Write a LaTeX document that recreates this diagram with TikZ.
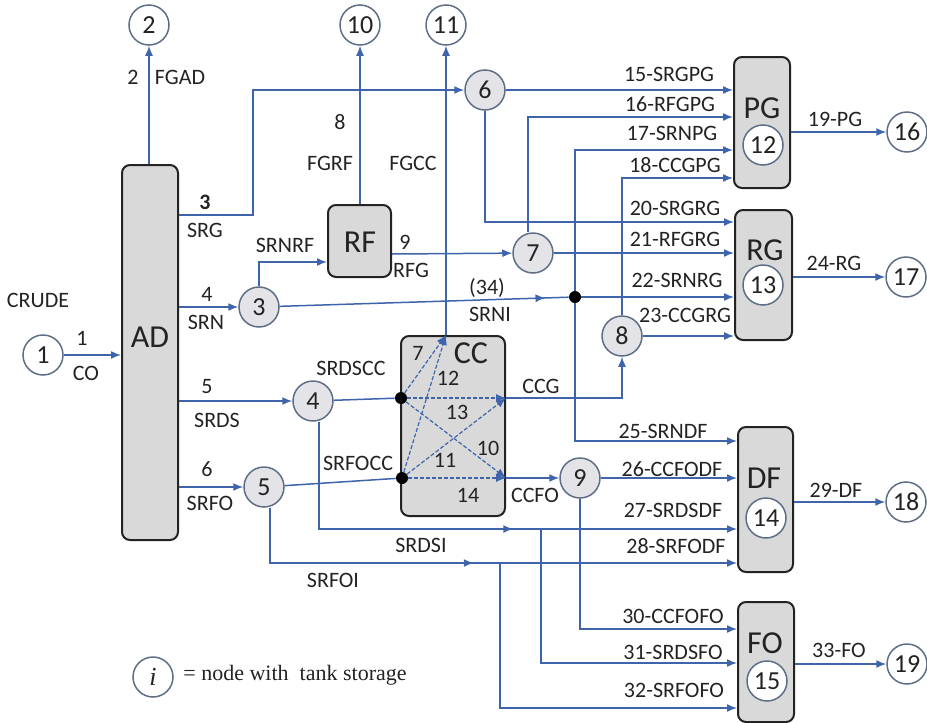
\documentclass[tikz,border=0pt]{standalone}
\usepackage{fontspec}
\setmainfont{Carlito}
\newfontfamily\legendfont{Liberation Serif}
\usetikzlibrary{arrows.meta,decorations.markings,calc}

\definecolor{flowblue}{RGB}{62,100,172}
\definecolor{ringgray}{RGB}{95,110,135}
\definecolor{boxfill}{RGB}{217,217,217}
\definecolor{tankfill}{RGB}{228,228,232}
\definecolor{inkgray}{RGB}{35,35,35}

\tikzset{
  flow/.style={flowblue,line width=0.75pt,-{Latex[length=5pt,width=4pt]}},
  pipe/.style={flowblue,line width=0.75pt},
  cross/.style={flowblue,line width=0.6pt,dash pattern=on 2pt off 1pt,-{Latex[length=5pt,width=4pt]}},
  midarrow/.style={postaction={decorate},decoration={markings,mark=at position #1 with {\arrow{Latex[length=5pt,width=4pt]}}}},
  unit/.style={draw=inkgray,fill=boxfill,line width=1pt,rounded corners=4pt,inner sep=0pt},
  tank/.style={circle,draw=ringgray,line width=0.75pt,fill=tankfill,minimum size=20pt,inner sep=0pt,text=inkgray,font=\fontsize{13}{15}\selectfont},
  sink/.style={tank,fill=white},
  lbl/.style={inner sep=0pt,text=inkgray,font=\fontsize{11}{13}\selectfont},
  ulbl/.style={inner sep=0pt,text=inkgray,font=\fontsize{16}{18}\selectfont},
  joint/.style={circle,fill=black,minimum size=6pt,inner sep=0pt}
}

\begin{document}
\begin{tikzpicture}[x=0.5pt,y=-0.5pt]
  \useasboundingbox (0,0) rectangle (927,723);

  % process units
  \node[unit,minimum width=28pt,minimum height=187.5pt] (AD) at (150,352.5) {};
  \node[unit,minimum width=31.5pt,minimum height=36pt] (RF) at (359.5,241) {};
  \node[unit,minimum width=52pt,minimum height=90pt] (CC) at (453,426) {};
  \node[unit,minimum width=28pt,minimum height=65.5pt] (PG) at (762,122.5) {};
  \node[unit,minimum width=28.5pt,minimum height=65pt] (RG) at (763.5,275) {};
  \node[unit,minimum width=27.5pt,minimum height=72.5pt] (DF) at (765.5,499.5) {};
  \node[unit,minimum width=28pt,minimum height=60pt] (FO) at (766,662) {};
  \node[ulbl] (ADt) at (150,337) {AD};
  \node[ulbl] (RFt) at (360,242) {RF};
  \node[ulbl] (CCt) at (471,353) {CC};
  \node[ulbl] (PGt) at (762,108) {PG};
  \node[ulbl] (RGt) at (765,250) {RG};
  \node[ulbl] (DFt) at (764,478) {DF};
  \node[ulbl] (FOt) at (765,643) {FO};

  % nodes
  \node[sink] (n1) at (43,355) {1};
  \node[sink] (n2) at (149,25) {2};
  \node[tank] (n3) at (259,307) {3};
  \node[tank] (n4) at (313,401) {4};
  \node[tank] (n5) at (264,487) {5};
  \node[tank] (n6) at (485,90) {6};
  \node[tank] (n7) at (533,253) {7};
  \node[tank] (n8) at (622,336) {8};
  \node[tank] (n9) at (580,478) {9};
  \node[sink] (n10) at (360,25) {10};
  \node[sink] (n11) at (446,25) {11};
  \node[sink] (n12) at (763,145) {12};
  \node[sink] (n13) at (763,285) {13};
  \node[sink] (n14) at (766,518) {14};
  \node[sink] (n15) at (767,681) {15};
  \node[sink] (n16) at (907,132) {16};
  \node[sink] (n17) at (906,277) {17};
  \node[sink] (n18) at (906,502) {18};
  \node[sink] (n19) at (907,664) {19};

  % junctions
  \node[joint] (J) at (575,297) {};
  \node[joint] (dA) at (401,398) {};
  \node[joint] (dB) at (402,478) {};
  \coordinate (tA) at (CC.north -| n11);
  \coordinate (cA) at (CC.east |- dA);
  \coordinate (cB) at (CC.east |- dB);
  \coordinate (s3) at (253,90);
  \coordinate (bA) at (541,529);
  \coordinate (bB) at (500,563);

  % crude unit
  \draw[flow] (n1) -- (n1 -| AD.west);
  \draw[flow] (AD.north -| n2) -- (n2);
  \draw[flow] (AD.east |- 0,215) -| (s3) -- (n6);
  \draw[flow] (AD.east |- n3) -- (n3);
  \draw[flow] (AD.east |- n4) -- (n4);
  \draw[flow] (AD.east |- n5) -- (n5);

  % naphtha and reformer
  \draw[flow] (n3) |- (RF.west |- 0,262);
  \draw[flow] (RF.north -| n10) -- (n10);
  \draw[flow] (RF.east |- 0,254) -- (n7);
  \draw[pipe,midarrow=0.92] (n3) -- (J);
  \draw[flow] (J) -- (J -| RG.west);
  \draw[flow] (J) |- (PG.west |- 0,150);
  \draw[flow] (J) |- (DF.west |- 0,441);

  % gasoline blending
  \draw[flow] (n6) -- (n6 -| PG.west);
  \draw[flow] (n6) |- (RG.west |- 0,222);
  \draw[flow] ([xshift=-2.5pt]n7.north) |- (PG.west |- 0,117);
  \draw[flow] (n7) -- (n7 -| RG.west);
  \draw[flow] (n8) |- (PG.west |- 0,178);
  \draw[flow] (n8) -- (n8 -| RG.west);

  % cracker
  \draw[pipe] (n4) -- (dA);
  \draw[pipe] (n5) -- (dB);
  \draw[cross] (dA) -- (tA);
  \draw[cross] (dB) -- (tA);
  \draw[cross] (dA) -- (cA);
  \draw[cross] (dB) -- (cA);
  \draw[cross] (dA) -- (cB);
  \draw[cross] (dB) -- (cB);
  \draw[flow] (tA) -- (n11);
  \draw[flow] (cA) -| (n8);
  \draw[flow] (cB) -- (n9);
  \draw[flow] (n9) -- (n9 -| DF.west);
  \draw[flow] (n9) |- (FO.west |- 0,629);

  % bypass streams
  \draw[flow,midarrow=0.574] ([xshift=3pt]n4.south) |- (DF.west |- bA);
  \draw[flow] (bA) |- (FO.west |- 0,663);
  \draw[flow,midarrow=0.496] ([xshift=3pt]n5.south) |- (DF.west |- bB);
  \draw[flow] (bB) |- (FO.west |- 0,708);

  % products
  \draw[flow] (PG.east |- n16) -- (n16);
  \draw[flow] (RG.east |- n17) -- (n17);
  \draw[flow] (DF.east |- n18) -- (n18);
  \draw[flow] (FO.east |- n19) -- (n19);

  % stream labels
  \node[lbl] (lcrude) at (38,300) {CRUDE};
  \node[lbl] (l1) at (82,338) {1};
  \node[lbl] (lco) at (86,373) {CO};
  \node[lbl] (l2) at (133,77) {2};
  \node[lbl] (lfgad) at (180,77) {FGAD};
  \node[lbl,font=\bfseries\fontsize{11}{13}\selectfont] (l3) at (205,202) {3};
  \node[lbl] (lsrg) at (205,230) {SRG};
  \node[lbl] (l4) at (207,294) {4};
  \node[lbl] (lsrn) at (206,322) {SRN};
  \node[lbl] (l5) at (207,387) {5};
  \node[lbl] (lsrds) at (217,420) {SRDS};
  \node[lbl] (l6) at (207,469) {6};
  \node[lbl] (lsrfo) at (210,503) {SRFO};
  \node[lbl] (lsrnrf) at (285,245) {SRNRF};
  \node[lbl] (l8) at (340,122) {8};
  \node[lbl] (lfgrf) at (330,163) {FGRF};
  \node[lbl] (lfgcc) at (413,163) {FGCC};
  \node[lbl] (l9) at (405,242) {9};
  \node[lbl] (lrfg) at (411,270) {RFG};
  \node[lbl] (l34) at (487,288) {(34)};
  \node[lbl] (lsrni) at (490,314) {SRNI};
  \node[lbl] (lsrdscc) at (351,368) {SRDSCC};
  \node[lbl] (lsrfocc) at (358,463) {SRFOCC};
  \node[lbl] (lsrdsi) at (421,545) {SRDSI};
  \node[lbl] (lsrfoi) at (333,580) {SRFOI};
  \node[lbl] (lccg) at (541,386) {CCG};
  \node[lbl] (lccfo) at (535,495) {CCFO};
  \node[lbl] (l7) at (418,353) {7};
  \node[lbl] (l12) at (448,378) {12};
  \node[lbl] (l13) at (457,412) {13};
  \node[lbl] (l10) at (488,448) {10};
  \node[lbl] (l11) at (445,460) {11};
  \node[lbl] (l14) at (468,495) {14};
  \node[lbl] (l15) at (669,74) {15-SRGPG};
  \node[lbl] (l16) at (670,104) {16-RFGPG};
  \node[lbl] (l17) at (672,133) {17-SRNPG};
  \node[lbl] (l18) at (675,165) {18-CCGPG};
  \node[lbl] (l19) at (835,119) {19-PG};
  \node[lbl] (l20) at (675,208) {20-SRGRG};
  \node[lbl] (l21) at (675,239) {21-RFGRG};
  \node[lbl] (l22) at (677,280) {22-SRNRG};
  \node[lbl] (l23) at (685,315) {23-CCGRG};
  \node[lbl] (l24) at (834,263) {24-RG};
  \node[lbl] (l25) at (663,431) {25-SRNDF};
  \node[lbl] (l26) at (672,469) {26-CCFODF};
  \node[lbl] (l27) at (673,510) {27-SRDSDF};
  \node[lbl] (l28) at (676,546) {28-SRFODF};
  \node[lbl] (l29) at (836,490) {29-DF};
  \node[lbl] (l30) at (673,616) {30-CCFOFO};
  \node[lbl] (l31) at (673,652) {31-SRDSFO};
  \node[lbl] (l32) at (674,690) {32-SRFOFO};
  \node[lbl] (l33) at (839,650) {33-FO};

  % legend
  \node[sink,font=\legendfont\itshape\fontsize{13}{15}\selectfont] (key) at (153,677) {i};
  \node[anchor=west,inner sep=0pt,text=inkgray,font=\legendfont\fontsize{11}{13}\selectfont] (keytext) at (183,675) {= node with\ \ tank storage};
\end{tikzpicture}
\end{document}
